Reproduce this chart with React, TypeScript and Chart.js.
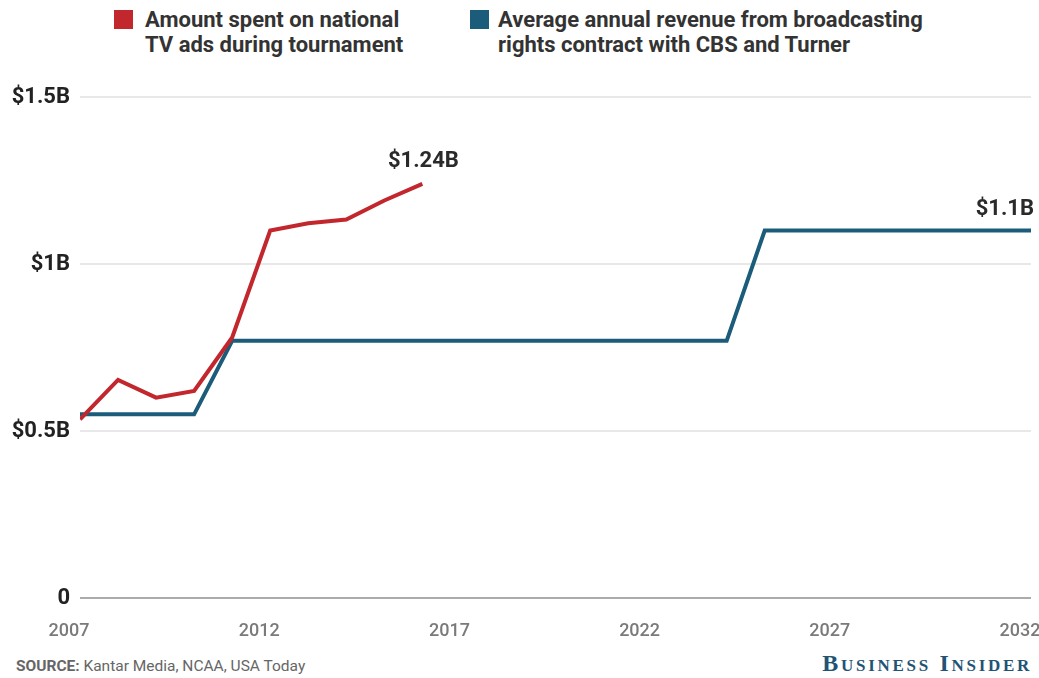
import React, { useEffect, useRef } from "react";
import { Chart, registerables } from "chart.js";

Chart.register(...registerables);

const redYears = [2007, 2008, 2009, 2010, 2011, 2012, 2013, 2014, 2015, 2016];
const redValues = [0.535, 0.653, 0.6, 0.62, 0.78, 1.1, 1.122, 1.133, 1.19, 1.24];

const blueYears = [2007, 2010, 2011, 2024, 2025, 2032];
const blueValues = [0.55, 0.55, 0.77, 0.77, 1.1, 1.1];

const yTickValues = [0, 0.5, 1, 1.5];
const yTickLabels = ["0", "$0.5B", "$1B", "$1.5B"];

const redLabel = "Amount spent on national TV ads during tournament";
const blueLabel = "Average annual revenue from broadcasting rights contract with CBS and Turner";
const redEndLabel = "$1.24B";
const blueEndLabel = "$1.1B";

const RED = "#c1272d";
const BLUE = "#1b5c7a";

const endLabelPlugin = {
  id: "endLabels",
  afterDatasetsDraw(chart: any) {
    const { ctx, scales } = chart;
    const xs = scales.x;
    const ys = scales.y;
    ctx.save();
    ctx.font = "bold 22px Roboto";
    ctx.fillStyle = "#2a2a2a";
    ctx.textBaseline = "middle";
    const rx = xs.getPixelForValue(redYears[redYears.length - 1]);
    const ry = ys.getPixelForValue(redValues[redValues.length - 1]);
    ctx.textAlign = "center";
    ctx.fillText(redEndLabel, rx + 1, ry - 22);
    const bx = xs.getPixelForValue(blueYears[blueYears.length - 1]);
    const by = ys.getPixelForValue(blueValues[blueValues.length - 1]);
    ctx.textAlign = "right";
    ctx.fillText(blueEndLabel, bx + 3, by - 21);
    ctx.restore();
  },
};

export default function App() {
  const ref = useRef<HTMLCanvasElement | null>(null);

  useEffect(() => {
    document.body.style.margin = "0";
    const canvas = ref.current;
    if (!canvas) return;
    const chart = new Chart(canvas, {
      type: "line",
      data: {
        datasets: [
          {
            label: redLabel,
            data: redYears.map((x, i) => ({ x, y: redValues[i] })),
            borderColor: RED,
            borderWidth: 4,
            pointRadius: 0,
            borderCapStyle: "butt",
            borderJoinStyle: "miter",
            tension: 0,
          },
          {
            label: blueLabel,
            data: blueYears.map((x, i) => ({ x, y: blueValues[i] })),
            borderColor: BLUE,
            borderWidth: 4,
            pointRadius: 0,
            borderCapStyle: "butt",
            borderJoinStyle: "miter",
            tension: 0,
          },
        ],
      },
      options: {
        responsive: false,
        animation: false,
        layout: { padding: { top: 17, right: 8, left: 0, bottom: 0 } },
        plugins: {
          legend: { display: false },
          tooltip: { enabled: false },
        },
        scales: {
          x: {
            type: "linear",
            min: 2007,
            max: 2032,
            grid: { display: false },
            border: { display: false },
            ticks: {
              stepSize: 5,
              padding: 15,
              labelOffset: -11,
              maxRotation: 0,
              autoSkip: false,
              color: "#7a7a7a",
              font: { family: "Roboto", size: 18, weight: "500" },
              callback: (v: any) => String(v),
            },
            afterFit(scale: any) {
              scale.height = 50;
              scale.paddingLeft = 0;
              scale.paddingRight = 0;
            },
          },
          y: {
            min: 0,
            max: 1.5,
            afterBuildTicks(scale: any) {
              scale.ticks = yTickValues.map((v) => ({ value: v }));
            },
            grid: {
              drawTicks: false,
              lineWidth: 2,
              color: (c: any) => (c.tick && c.tick.value === 0 ? "#ababab" : "#e8e8e8"),
            },
            border: { display: false },
            ticks: {
              padding: 10,
              color: "#222",
              font: { family: "Roboto", size: 22, weight: "bold" },
              callback: (v: any) => {
                const i = yTickValues.indexOf(Number(v));
                return i >= 0 ? yTickLabels[i] : "";
              },
            },
            afterFit(scale: any) {
              scale.width = 80;
              scale.paddingTop = 0;
              scale.paddingBottom = 0;
            },
          },
        },
      },
      plugins: [endLabelPlugin],
    });
    return () => chart.destroy();
  }, []);

  const legendText: React.CSSProperties = {
    position: "absolute",
    font: "bold 22px Roboto",
    color: "#333",
    lineHeight: "25px",
    whiteSpace: "nowrap",
  };

  return (
    <div style={{ position: "relative", width: 1039, height: 678, background: "#fff", overflow: "hidden" }}>
      <div style={{ position: "absolute", left: 114, top: 10, width: 19, height: 19, background: RED }} />
      <div style={{ ...legendText, left: 145, top: 7 }}>
        Amount spent on national
        <br />
        TV ads during tournament
      </div>
      <div style={{ position: "absolute", left: 470, top: 10, width: 19, height: 19, background: BLUE }} />
      <div style={{ ...legendText, left: 498, top: 7 }}>
        Average annual revenue from broadcasting
        <br />
        rights contract with CBS and Turner
      </div>
      <canvas ref={ref} width={1039} height={568} style={{ position: "absolute", left: 0, top: 80 }} />
      <div style={{ position: "absolute", left: 16, top: 657, font: "15.5px Roboto", color: "#666", whiteSpace: "nowrap" }}>
        <b>SOURCE:</b> Kantar Media, NCAA, USA Today
      </div>
      <div
        style={{
          position: "absolute",
          right: 7,
          top: 650,
          font: "bold 24px 'Liberation Serif'",
          fontVariant: "small-caps",
          letterSpacing: "2.7px",
          color: "#1f5474",
          whiteSpace: "nowrap",
        }}
      >
        Business Insider
      </div>
    </div>
  );
}
